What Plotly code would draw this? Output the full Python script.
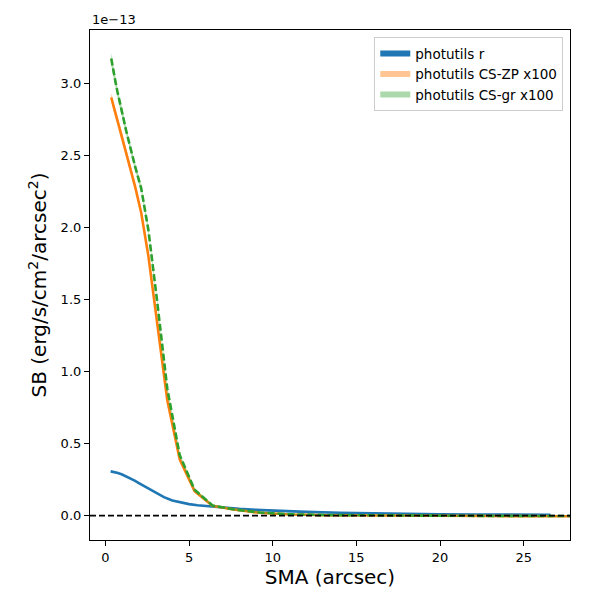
import plotly.graph_objects as go

# surface brightness in units of 1e-13 erg/s/cm^2/arcsec^2
sma_r = [0.32, 0.5, 0.75, 1.0, 1.25, 1.5, 1.75, 2.0, 2.5, 3.0, 3.5, 4.0, 4.5, 5.0, 5.5,
         6.0, 7.0, 8.0, 9.0, 10.0, 12.0, 14.0, 16.0, 18.0, 20.0, 22.0, 24.0, 26.6]
sb_r = [0.307, 0.303, 0.295, 0.285, 0.272, 0.258, 0.243, 0.226, 0.192, 0.158, 0.128, 0.105,
        0.090, 0.080, 0.072, 0.066, 0.056, 0.047, 0.040, 0.034, 0.026, 0.020, 0.015, 0.012,
        0.010, 0.008, 0.007, 0.006]
err_r = [0.004, 0.004, 0.004, 0.003, 0.003, 0.003, 0.003, 0.003, 0.002, 0.002, 0.002, 0.002,
         0.002, 0.002, 0.001, 0.001, 0.001, 0.001, 0.001, 0.001, 0.001, 0.001, 0.001, 0.001,
         0.001, 0.001, 0.001, 0.001]

sma_cs = [0.35, 0.42, 0.50, 0.60, 0.72, 0.86, 1.03, 1.24, 1.49, 1.78, 2.14, 2.57, 3.08,
          3.70, 4.44, 5.33, 6.40, 7.68, 9.21, 11.05, 13.27, 15.92, 19.10, 22.92, 27.51, 33.0]
sb_zp = [2.90, 2.87, 2.83, 2.79, 2.75, 2.69, 2.62, 2.53, 2.42, 2.28, 2.10, 1.80, 1.35,
         0.80, 0.39, 0.17, 0.068, 0.042, 0.020, 0.008, 0.003, 0.0, -0.002, -0.003, -0.004, -0.004]
err_zp = [0.03, 0.03, 0.03, 0.03, 0.025, 0.025, 0.025, 0.02, 0.02, 0.02, 0.02, 0.02, 0.02,
          0.015, 0.015, 0.01, 0.008, 0.006, 0.005, 0.004, 0.003, 0.003, 0.003, 0.003, 0.003, 0.003]
sb_gr = [3.17, 3.12, 3.07, 3.01, 2.94, 2.86, 2.78, 2.67, 2.55, 2.42, 2.27, 1.98, 1.50,
         0.88, 0.42, 0.18, 0.07, 0.043, 0.022, 0.009, 0.004, 0.001, -0.001, -0.002, -0.003, -0.003]
err_gr = [0.04, 0.04, 0.035, 0.035, 0.03, 0.03, 0.03, 0.025, 0.025, 0.025, 0.02, 0.02, 0.02,
          0.015, 0.015, 0.01, 0.008, 0.006, 0.005, 0.004, 0.003, 0.003, 0.003, 0.003, 0.003, 0.003]

series = [
    ("photutils r", sma_r, sb_r, err_r, "#1f77b4", "rgba(31,119,180,1)", "solid"),
    ("photutils CS-ZP x100", sma_cs, sb_zp, err_zp, "#ff7f0e", "rgba(255,127,14,0.45)", "solid"),
    ("photutils CS-gr x100", sma_cs, sb_gr, err_gr, "#2ca02c", "rgba(44,160,44,0.4)", "7px,3px"),
]

fig = go.Figure()
for name, x, y, e, col, fillcol, dash in series:
    upper = [v + d for v, d in zip(y, e)]
    lower = [v - d for v, d in zip(y, e)]
    fig.add_trace(go.Scatter(x=x + x[::-1], y=upper + lower[::-1], fill="toself",
                             fillcolor=fillcol, mode="none", name=name, hoverinfo="skip"))
    fig.add_trace(go.Scatter(x=x, y=y, mode="lines", showlegend=False,
                             line=dict(color=col, width=2.6, dash=dash)))

fig.add_hline(y=0, line=dict(color="black", width=1.6, dash="6px,3px"), layer="above")

fig.add_annotation(text="1e\u221213", xref="paper", yref="paper", x=0, y=1,
                   xanchor="left", yanchor="bottom", yshift=1, showarrow=False,
                   font=dict(size=13, color="black"))

axis_style = dict(showline=True, linecolor="black", linewidth=1.2, mirror=True,
                  ticks="outside", ticklen=5, tickcolor="black", showgrid=False,
                  zeroline=False, automargin=False, tickfont=dict(size=13, color="black"))

fig.update_xaxes(range=[-0.92, 27.77], tickvals=[0, 5, 10, 15, 20, 25],
                 title=dict(text="SMA (arcsec)", font=dict(size=20, color="black"), standoff=4),
                 **axis_style)
fig.update_yaxes(range=[-0.169, 3.368], tickvals=[0, 0.5, 1.0, 1.5, 2.0, 2.5, 3.0],
                 tickformat=".1f",
                 title=dict(text="SB (erg/s/cm<sup>2</sup>/arcsec<sup>2</sup>)",
                            font=dict(size=20, color="black"), standoff=8),
                 **axis_style)

# page body adds an 8px offset, so margins are shifted to compensate
fig.update_layout(
    width=600, height=600,
    margin=dict(l=82, r=38, t=22, b=68),
    plot_bgcolor="white", paper_bgcolor="white",
    font=dict(family="DejaVu Sans", color="black"),
    legend=dict(x=0.986, y=0.986, xanchor="right", yanchor="top",
                bordercolor="#cccccc", borderwidth=1, bgcolor="rgba(255,255,255,0.8)",
                font=dict(size=13.5), itemwidth=30, tracegroupgap=2),
)

fig.write_html("out.html")
